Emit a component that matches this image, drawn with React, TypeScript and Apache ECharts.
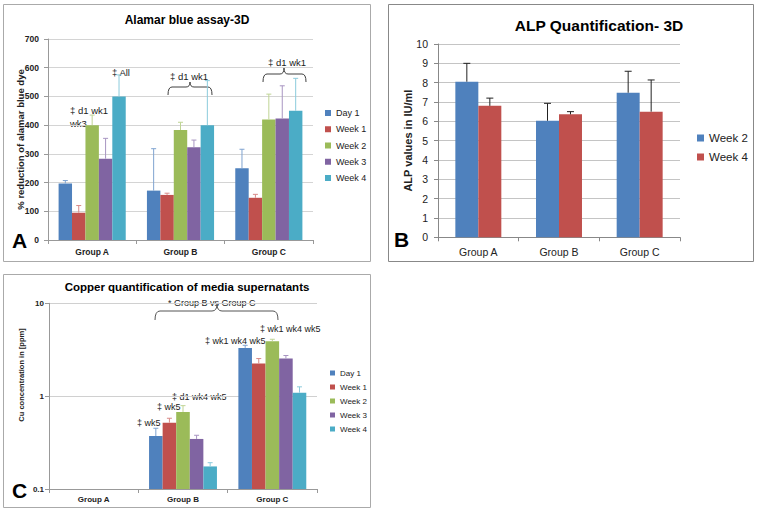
import React, { useEffect, useRef } from 'react';
import * as echarts from 'echarts';

// ---------- data ----------
const categories = ['Group A', 'Group B', 'Group C'];

// Panel A: Alamar blue assay-3D (% reduction of alamar blue dye)
const alamarNames = ['Day 1', 'Week 1', 'Week 2', 'Week 3', 'Week 4'];
const alamarDay1 = [197, 172, 250];
const alamarWeek1 = [95, 157, 147];
const alamarWeek2 = [400, 383, 420];
const alamarWeek3 = [283, 323, 423];
const alamarWeek4 = [500, 400, 450];
const alamarDay1Err = [207, 318, 316];
const alamarWeek1Err = [120, 163, 159];
const alamarWeek2Err = [435, 410, 508];
const alamarWeek3Err = [354, 348, 537];
const alamarWeek4Err = [575, 555, 563];
const alamarTicks = [0, 700, 100];

// Panel B: ALP Quantification- 3D (IU/ml)
const alpNames = ['Week 2', 'Week 4'];
const alpWeek2 = [8.05, 6.03, 7.48];
const alpWeek4 = [6.8, 6.36, 6.5];
const alpWeek2Err = [9.0, 6.93, 8.59];
const alpWeek4Err = [7.2, 6.5, 8.14];
const alpTicks = [0, 10, 1];

// Panel C: Copper quantification of media supernatants (ppm, log scale)
const cuNames = ['Day 1', 'Week 1', 'Week 2', 'Week 3', 'Week 4'];
const cuDay1 = [0.1, 0.372, 3.31];
const cuWeek1 = [0.1, 0.518, 2.25];
const cuWeek2 = [0.1, 0.676, 3.9];
const cuWeek3 = [0.1, 0.346, 2.54];
const cuWeek4 = [0.1, 0.175, 1.09];
const cuDay1Err = [null, 0.451, 3.53];
const cuWeek1Err = [null, 0.578, 2.54];
const cuWeek2Err = [null, 0.79, 4.1];
const cuWeek3Err = [null, 0.379, 2.74];
const cuWeek4Err = [null, 0.192, 1.26];
const cuRange = [0.1, 10];

// ---------- styles ----------
const FONT = '"Liberation Sans", Arial, sans-serif';
const COLORS5 = ['#4F81BD', '#C0504D', '#9BBB59', '#8064A2', '#4BACC6'];
const ERR5 = ['#7FA3D0', '#D88A88', '#BFD494', '#A895C2', '#8CCBDC'];
const COLORS2 = ['#4F81BD', '#C0504D'];

type Num = number | null;

function errData(vals: number[][], errs: Num[][]) {
  const out: number[][] = [];
  vals.forEach((arr, s) => {
    arr.forEach((v, i) => {
      const e = errs[s][i];
      if (e != null) out.push([i, s, e, v]);
    });
  });
  return out;
}

function errRenderer(n: number, gap: number, colors: string[], capW: number) {
  return (_params: any, api: any) => {
    const cat = api.value(0);
    const s = api.value(1);
    const top = api.value(2);
    const base = api.value(3);
    const p1 = api.coord([cat, base]);
    const p2 = api.coord([cat, top]);
    const bw = api.size([1, 0])[0];
    const barW = (bw * (1 - gap)) / n;
    const x = p1[0] - (bw * (1 - gap)) / 2 + barW * (s + 0.5);
    const st = { stroke: colors[s], lineWidth: 1 };
    return {
      type: 'group',
      children: [
        { type: 'line', shape: { x1: x, y1: p1[1], x2: x, y2: p2[1] }, style: st },
        { type: 'line', shape: { x1: x - capW / 2, y1: p2[1], x2: x + capW / 2, y2: p2[1] }, style: st },
      ],
    };
  };
}

function brace(x1: number, x2: number, xm: number, yEnd: number, yTop: number, yTip: number, r: number, color: string) {
  const st = { stroke: color, lineWidth: 1, fill: 'none' };
  return [
    { type: 'bezierCurve', shape: { x1: x1, y1: yEnd, x2: x1 + r, y2: yTop, cpx1: x1, cpy1: yTop }, style: st },
    { type: 'line', shape: { x1: x1 + r, y1: yTop, x2: xm - r, y2: yTop }, style: st },
    { type: 'bezierCurve', shape: { x1: xm - r, y1: yTop, x2: xm, y2: yTip, cpx1: xm, cpy1: yTop }, style: st },
    { type: 'bezierCurve', shape: { x1: xm, y1: yTip, x2: xm + r, y2: yTop, cpx1: xm, cpy1: yTop }, style: st },
    { type: 'line', shape: { x1: xm + r, y1: yTop, x2: x2 - r, y2: yTop }, style: st },
    { type: 'bezierCurve', shape: { x1: x2 - r, y1: yTop, x2: x2, y2: yEnd, cpx1: x2, cpy1: yTop }, style: st },
  ];
}

function txt(text: string, x: number, y: number, fontSize: number, fontWeight = 'normal', fill = '#222', align = 'left', rotation = 0) {
  return {
    type: 'text',
    x,
    y,
    rotation,
    silent: true,
    style: { text, fontSize, fontWeight, fontFamily: FONT, fill, align, verticalAlign: 'middle' },
  };
}

const GAP_A = 0.24;
const GAP_B = 0.43;
const GAP_C = 0.24;

function buildOption() {
  const alamarVals = [alamarDay1, alamarWeek1, alamarWeek2, alamarWeek3, alamarWeek4];
  const alamarErrs = [alamarDay1Err, alamarWeek1Err, alamarWeek2Err, alamarWeek3Err, alamarWeek4Err];
  const alpVals = [alpWeek2, alpWeek4];
  const alpErrs = [alpWeek2Err, alpWeek4Err];
  const cuVals = [cuDay1, cuWeek1, cuWeek2, cuWeek3, cuWeek4];
  const cuErrs = [cuDay1Err, cuWeek1Err, cuWeek2Err, cuWeek3Err, cuWeek4Err];

  const xAxisBase = (gridIndex: number, fontSize: number, fontWeight: string, margin: number, lineColor: string) => ({
    gridIndex,
    type: 'category',
    data: categories,
    axisLine: { show: true, lineStyle: { color: lineColor, width: 1 } },
    axisTick: { show: true, length: 4, alignWithLabel: false, lineStyle: { color: lineColor } },
    axisLabel: { fontSize, fontWeight, color: '#222', margin, fontFamily: FONT, interval: 0 },
    splitLine: { show: false },
  });

  const series: any[] = [];
  alamarVals.forEach((vals, s) => {
    series.push({
      type: 'bar', name: alamarNames[s], xAxisIndex: 0, yAxisIndex: 0, data: vals,
      barGap: '0%', barCategoryGap: GAP_A * 100 + '%', itemStyle: { color: COLORS5[s] }, silent: true,
    });
  });
  series.push({
    type: 'custom', xAxisIndex: 0, yAxisIndex: 0, z: 3, silent: true,
    renderItem: errRenderer(5, GAP_A, ERR5, 5), data: errData(alamarVals, alamarErrs as Num[][]), encode: { x: 0, y: 2 },
  });
  alpVals.forEach((vals, s) => {
    series.push({
      type: 'bar', name: alpNames[s], xAxisIndex: 1, yAxisIndex: 1, data: vals,
      barGap: '0%', barCategoryGap: GAP_B * 100 + '%', itemStyle: { color: COLORS2[s] }, silent: true,
    });
  });
  series.push({
    type: 'custom', xAxisIndex: 1, yAxisIndex: 1, z: 3, silent: true,
    renderItem: errRenderer(2, GAP_B, ['#222', '#222'], 7), data: errData(alpVals, alpErrs as Num[][]), encode: { x: 0, y: 2 },
  });
  cuVals.forEach((vals, s) => {
    series.push({
      type: 'bar', name: cuNames[s], xAxisIndex: 2, yAxisIndex: 2, data: vals,
      barGap: '0%', barCategoryGap: GAP_C * 100 + '%', itemStyle: { color: COLORS5[s] }, silent: true,
    });
  });
  series.push({
    type: 'custom', xAxisIndex: 2, yAxisIndex: 2, z: 3, silent: true,
    renderItem: errRenderer(5, GAP_C, ERR5, 5), data: errData(cuVals, cuErrs), encode: { x: 0, y: 2 },
  });

  const graphic: any[] = [
    // panel borders
    { type: 'rect', shape: { x: 3.5, y: 4.5, width: 367, height: 257 }, style: { fill: 'none', stroke: '#aaa', lineWidth: 1 }, silent: true },
    { type: 'rect', shape: { x: 388.5, y: 4.5, width: 365, height: 257 }, style: { fill: 'none', stroke: '#888', lineWidth: 1 }, silent: true },
    { type: 'rect', shape: { x: 3.5, y: 274.5, width: 367, height: 233 }, style: { fill: 'none', stroke: '#aaa', lineWidth: 1 }, silent: true },
    // panel letters
    txt('A', 12, 240, 21, 'bold', '#000'),
    txt('B', 394, 239, 21, 'bold', '#000'),
    txt('C', 12, 490, 21, 'bold', '#000'),
    // panel A annotations
    txt('‡ d1 wk1', 70, 110, 9.5),
    txt('wk3', 70, 123, 9.5),
    txt('‡ All', 112, 72, 9.5),
    txt('‡ d1 wk1', 170, 76, 9.5),
    txt('‡ d1 wk1', 268, 62, 9.5),
    ...brace(168, 212, 190, 95, 87, 82, 4, '#404040'),
    ...brace(263, 306, 284, 82, 74, 68, 4, '#404040'),
    // panel C annotations
    txt('* Group B vs Group C', 168, 303, 9),
    ...brace(155, 278, 217, 320, 311, 304, 5, '#555'),
    txt('‡ wk5', 137, 423, 9),
    txt('‡ wk5', 157, 407, 9),
    txt('‡ d1 wk4 wk5', 172, 397, 9),
    txt('‡ wk1 wk4 wk5', 205, 341, 9),
    txt('‡ wk1 wk4 wk5', 260, 329, 9),
    // panel C y-axis name
    txt('Cu concentration in [ppm]', 21, 375, 7.5, 'bold', '#222', 'center', Math.PI / 2),
  ];

  return {
    animation: false,
    backgroundColor: '#fff',
    textStyle: { fontFamily: FONT },
    title: [
      { text: 'Alamar blue assay-3D', left: 187, top: 14, textAlign: 'center', padding: 0, textStyle: { fontSize: 12, fontWeight: 'bold', color: '#000', fontFamily: FONT } },
      { text: 'ALP Quantification- 3D', left: 599, top: 17, textAlign: 'center', padding: 0, textStyle: { fontSize: 15.5, fontWeight: 'bold', color: '#000', fontFamily: FONT } },
      { text: 'Copper quantification of media supernatants', left: 187, top: 281, textAlign: 'center', padding: 0, textStyle: { fontSize: 11.5, fontWeight: 'bold', color: '#000', fontFamily: FONT } },
    ],
    legend: [
      {
        orient: 'vertical', left: 325, top: 107, padding: 0, itemWidth: 6, itemHeight: 6, itemGap: 4.25, icon: 'rect',
        textStyle: { fontSize: 9, lineHeight: 12, color: '#222', fontFamily: FONT },
        data: alamarNames.map((n, i) => ({ name: n, itemStyle: { color: COLORS5[i] } })), selectedMode: false,
      },
      {
        orient: 'vertical', left: 697, top: 131, padding: 0, itemWidth: 7, itemHeight: 7, itemGap: 5, icon: 'rect',
        textStyle: { fontSize: 11.5, lineHeight: 14, color: '#222', fontFamily: FONT },
        data: alpNames.map((n, i) => ({ name: n, itemStyle: { color: COLORS2[i] } })), selectedMode: false,
      },
      {
        orient: 'vertical', left: 330, top: 368, padding: 0, itemWidth: 5, itemHeight: 5, itemGap: 4, icon: 'rect',
        textStyle: { fontSize: 8, lineHeight: 10, color: '#222', fontFamily: FONT },
        data: cuNames.map((n, i) => ({ name: n, itemStyle: { color: COLORS5[i] } })), selectedMode: false,
      },
    ],
    grid: [
      { left: 48, top: 39, width: 265, height: 201, containLabel: false, outerBoundsMode: 'none' },
      { left: 438, top: 44, width: 242, height: 193.3, containLabel: false, outerBoundsMode: 'none' },
      { left: 49, top: 303.3, width: 268, height: 185.7, containLabel: false, outerBoundsMode: 'none' },
    ],
    xAxis: [
      xAxisBase(0, 8.5, 'bold', 7, '#999'),
      xAxisBase(1, 10.5, 'normal', 9, '#888'),
      xAxisBase(2, 8, 'bold', 6, '#999'),
    ],
    yAxis: [
      {
        gridIndex: 0, type: 'value', min: alamarTicks[0], max: alamarTicks[1], interval: alamarTicks[2],
        axisLine: { show: true, lineStyle: { color: '#999' } },
        axisTick: { show: true, length: 4, lineStyle: { color: '#999' } },
        splitLine: { show: true, lineStyle: { color: '#d4d4d4' } },
        axisLabel: { fontSize: 8.5, fontWeight: 'bold', color: '#222', margin: 9, fontFamily: FONT },
        name: '% reduction of alamar blue dye', nameLocation: 'middle', nameGap: 23, nameMoveOverlap: false,
        nameTextStyle: { fontSize: 9.5, fontWeight: 'bold', color: '#222', fontFamily: FONT },
      },
      {
        gridIndex: 1, type: 'value', min: alpTicks[0], max: alpTicks[1], interval: alpTicks[2],
        axisLine: { show: true, lineStyle: { color: '#888' } },
        axisTick: { show: true, length: 4, lineStyle: { color: '#888' } },
        splitLine: { show: true, lineStyle: { color: '#c4c4c4' } },
        axisLabel: { fontSize: 10.5, color: '#222', margin: 10, fontFamily: FONT },
        name: 'ALP values in IU/ml', nameLocation: 'middle', nameGap: 25, nameMoveOverlap: false,
        nameTextStyle: { fontSize: 11, fontWeight: 'bold', color: '#222', fontFamily: FONT },
      },
      {
        gridIndex: 2, type: 'log', logBase: 10, min: cuRange[0], max: cuRange[1], startValue: cuRange[0],
        axisLine: { show: true, lineStyle: { color: '#999' } },
        axisTick: { show: true, length: 4, lineStyle: { color: '#999' } },
        minorTick: { show: false },
        splitLine: { show: true, lineStyle: { color: '#d0d0d0' } },
        axisLabel: { fontSize: 8, fontWeight: 'bold', color: '#222', margin: 5, fontFamily: FONT },
      },
    ],
    series,
    graphic,
  };
}

export default function App() {
  const ref = useRef<HTMLDivElement>(null);
  useEffect(() => {
    if (!ref.current) return;
    const chart = echarts.init(ref.current, null, { renderer: 'svg' });
    chart.setOption(buildOption() as any);
    return () => chart.dispose();
  }, []);
  return (
    <div
      ref={ref}
      style={{ position: 'absolute', left: 0, top: 0, width: 758, height: 512, background: '#fff' }}
    />
  );
}
